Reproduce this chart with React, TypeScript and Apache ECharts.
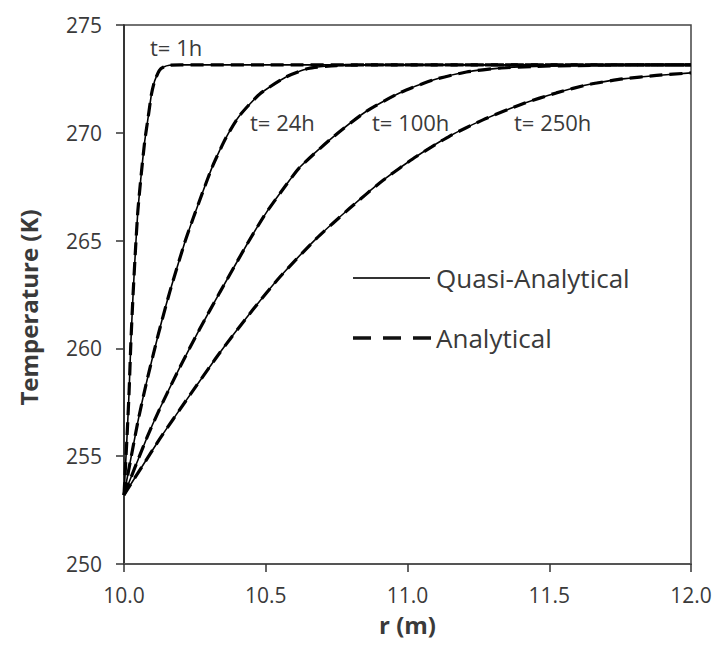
import React, { useEffect, useRef } from "react";
import * as echarts from "echarts";

// r (m) and Temperature (K)
const r1h = [10.0, 10.011, 10.018, 10.024, 10.032, 10.041, 10.049, 10.061, 10.073, 10.085, 10.097, 10.108, 10.125, 10.14, 10.16, 10.2, 10.5, 11.0, 11.5, 12.0];
const T1h = [253.2, 256.0, 258.0, 260.2, 262.5, 264.7, 266.4, 268.1, 269.6, 270.7, 271.8, 272.4, 272.9, 273.05, 273.13, 273.15, 273.15, 273.15, 273.15, 273.15];

const r24h = [10.0, 10.049, 10.079, 10.12, 10.161, 10.214, 10.243, 10.279, 10.314, 10.361, 10.408, 10.479, 10.573, 10.65, 10.75, 10.9, 11.5, 12.0];
const T24h = [253.2, 256.6, 258.4, 260.6, 262.6, 264.9, 266.0, 267.3, 268.5, 269.8, 270.8, 271.8, 272.6, 272.98, 273.12, 273.15, 273.15, 273.15];

const r100h = [10.0, 10.079, 10.126, 10.196, 10.267, 10.338, 10.437, 10.502, 10.573, 10.62, 10.737, 10.855, 10.972, 11.09, 11.208, 11.325, 11.45, 11.6, 11.8, 12.0];
const T100h = [253.2, 255.8, 257.2, 259.1, 260.9, 262.6, 264.9, 266.3, 267.6, 268.4, 269.8, 271.0, 271.85, 272.45, 272.82, 273.0, 273.08, 273.12, 273.15, 273.15];

const r250h = [10.0, 10.126, 10.22, 10.338, 10.455, 10.549, 10.679, 10.796, 10.914, 11.031, 11.149, 11.266, 11.407, 11.525, 11.643, 11.76, 11.878, 12.0];
const T250h = [253.2, 255.8, 257.6, 259.8, 261.8, 263.3, 265.1, 266.5, 267.8, 268.9, 269.85, 270.6, 271.35, 271.85, 272.25, 272.5, 272.66, 272.78];

const curves = [
  { label: "t= 1h", r: r1h, T: T1h },
  { label: "t= 24h", r: r24h, T: T24h },
  { label: "t= 100h", r: r100h, T: T100h },
  { label: "t= 250h", r: r250h, T: T250h },
];

const methods = ["Quasi-Analytical", "Analytical"];
const xTicks = [10.0, 10.5, 11.0, 11.5, 12.0];
const yTicks = [250, 255, 260, 265, 270, 275];

const FONT = "'Open Sans', 'Noto Sans', sans-serif";
const TXT = "#3a3a3a";

export default function App() {
  const ref = useRef<HTMLDivElement>(null);
  useEffect(() => {
    if (!ref.current) return;
    const chart = echarts.init(ref.current, null, { renderer: "svg" });
    const series: any[] = [];
    curves.forEach((c) => {
      const data = c.r.map((x, i) => [x, c.T[i]]);
      series.push({
        name: methods[0],
        type: "line",
        data,
        showSymbol: false,
        smooth: 0.2,
        lineStyle: { color: "#000", width: 1.6, type: "solid" },
        z: 3,
      });
      series.push({
        name: methods[1],
        type: "line",
        data,
        showSymbol: false,
        smooth: 0.2,
        lineStyle: { color: "#000", width: 3.2, type: [13, 7] },
        z: 4,
      });
    });
    const labelPos = [
      [150, 47],
      [250, 122],
      [372, 122],
      [514, 122],
    ];
    const graphics: any[] = curves.map((c, i) => ({
      type: "text",
      x: labelPos[i][0],
      y: labelPos[i][1],
      style: {
        text: c.label,
        font: `22px ${FONT}`,
        fill: TXT,
        verticalAlign: "middle",
      },
    }));
    graphics.push(
      {
        type: "line",
        shape: { x1: 353, y1: 278, x2: 430, y2: 278 },
        style: { stroke: "#333", lineWidth: 1.8 },
      },
      {
        type: "text",
        x: 436,
        y: 278,
        style: { text: methods[0], font: `26px ${FONT}`, fill: TXT, verticalAlign: "middle" },
      },
      {
        type: "line",
        shape: { x1: 353, y1: 338, x2: 432, y2: 338 },
        style: { stroke: "#111", lineWidth: 3.5, lineDash: [18, 12] },
      },
      {
        type: "text",
        x: 436,
        y: 338,
        style: { text: methods[1], font: `26px ${FONT}`, fill: TXT, verticalAlign: "middle" },
      }
    );
    chart.setOption({
      animation: false,
      backgroundColor: "#fff",
      grid: {
        left: 124,
        right: 26,
        top: 25,
        bottom: 85,
        show: true,
        borderColor: "#444",
        borderWidth: 1.5,
      },
      xAxis: {
        type: "value",
        min: 10,
        max: 12,
        interval: 0.5,
        name: "r (m)",
        nameLocation: "middle",
        nameGap: 48,
        nameTextStyle: { fontFamily: FONT, fontSize: 24, fontWeight: "bold", color: TXT },
        axisLine: { show: true, lineStyle: { color: "#555", width: 2 } },
        axisTick: { show: true, length: 8, lineStyle: { color: "#333", width: 1.5 } },
        axisLabel: {
          fontFamily: FONT,
          fontSize: 21,
          color: TXT,
          margin: 20,
          formatter: (v: number) => (xTicks.includes(v) ? v.toFixed(1) : ""),
        },
        splitLine: { show: false },
      },
      yAxis: {
        type: "value",
        min: 250,
        max: 275,
        interval: 5,
        name: "Temperature (K)",
        nameLocation: "middle",
        nameGap: 84,
        nameTextStyle: {
          fontFamily: FONT,
          fontSize: 24,
          fontWeight: "bold",
          color: TXT,
          padding: [0, 26, 0, 0],
        },
        axisLine: { show: true, lineStyle: { color: "#222", width: 1.5 } },
        axisTick: { show: true, length: 8, lineStyle: { color: "#333", width: 1.5 } },
        axisLabel: {
          fontFamily: FONT,
          fontSize: 21,
          color: TXT,
          margin: 22,
          formatter: (v: number) => (yTicks.includes(v) ? String(v) : ""),
        },
        splitLine: { show: false },
      },
      series,
      graphic: graphics,
    });
    return () => chart.dispose();
  }, []);
  return (
    <div
      ref={ref}
      style={{ position: "fixed", left: 0, top: 0, width: 717, height: 649, background: "#fff" }}
    />
  );
}
